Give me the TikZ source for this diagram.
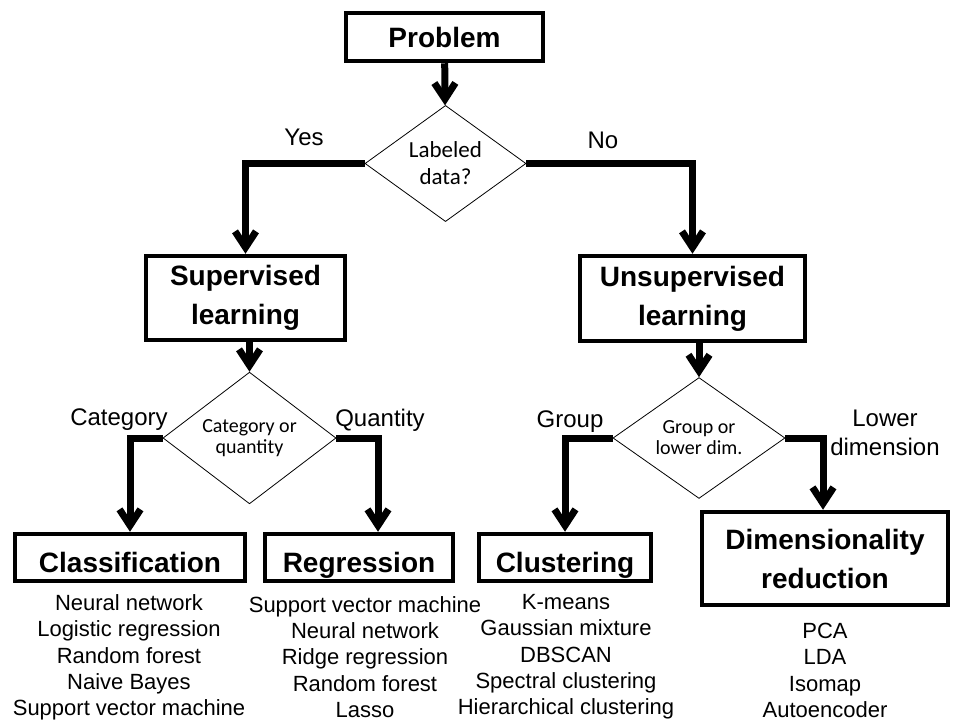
\documentclass[tikz,border=0pt]{standalone}
\usepackage{fontspec}
\setmainfont{Liberation Sans}
\newfontfamily\carlito{Carlito}
\usetikzlibrary{shapes.geometric,arrows.meta}
\begin{document}
\begin{tikzpicture}[x=1pt,y=-1pt,
  box/.style={draw, line width=4.5pt, inner sep=0pt, align=center,
    font=\fontsize{28}{39}\selectfont\bfseries},
  onebox/.style={box, text height=34pt, text depth=4pt},
  dec/.style={draw, diamond, line width=0.8pt, inner sep=0pt, align=center},
  lab/.style={font=\fontsize{24}{29}\selectfont, align=center},
  lst/.style={font=\fontsize{22}{26.3}\selectfont, align=center},
  arr/.style={line width=7pt, -{Straight Barb[length=16pt,width=21pt]}}
]
\useasboundingbox (0,0) rectangle (961,726);

% boxes
\node[box, minimum width=197pt, minimum height=48pt] (prob) at (444.5,37) {Problem};
\node[box, minimum width=199pt, minimum height=84pt] (sup) at (245.5,298) {\raisebox{-2pt}{Supervised}\\\raisebox{-2pt}{learning}};
\node[box, minimum width=225pt, minimum height=85pt] (unsup) at (692.5,298.5) {\raisebox{-1pt}{Unsupervised}\\\raisebox{-1pt}{learning}};
\node[onebox, minimum width=230pt, minimum height=47pt] (class) at (130,557.5) {Classification};
\node[onebox, minimum width=188pt, minimum height=47pt] (reg) at (359,557.5) {Regression};
\node[onebox, minimum width=172pt, minimum height=47pt] (clu) at (565,557.5) {Clustering};
\node[box, minimum width=246pt, minimum height=93pt] (dim) at (825,558.5) {Dimensionality\\reduction};

% decisions
\node[dec, minimum width=161pt, minimum height=107pt,
  font=\carlito\fontsize{23}{27}\selectfont] (d1) at (445.5,163.5) {Labeled\\data?};
\node[dec, minimum width=173pt, minimum height=110pt,
  font=\carlito\fontsize{20}{21}\selectfont] (d2) at (249.5,438) {Category or\\quantity};
\node[dec, minimum width=172pt, minimum height=110pt,
  font=\carlito\fontsize{20}{21}\selectfont] (d3) at (699,438) {Group or\\lower dim.};

% connectors
\draw[arr] (prob) -- (d1);
\draw[arr] (d1.west) -| (sup.north);
\draw[arr] (d1.east) -| (unsup.north);
\draw[arr] (sup.south -| d2.north) -- (d2.north);
\draw[arr] (unsup.south -| d3.north) -- (d3.north);
\draw[arr] (d2.west) -| (class.north);
\draw[arr] (d2.east) -| ([xshift=19pt]reg.north);
\draw[arr] (d3.west) -| (clu.north);
\draw[arr] (d3.east) -| ([xshift=-2pt]dim.north);

% branch labels
\node[lab] (yes) at (304,137) {Yes};
\node[lab] (no) at (603,140) {No};
\node[lab] (cat) at (119,420) {Category};
\node[lab] (qty) at (380,420) {Quantity};
\node[lab] (grp) at (570,422) {Group};
\node[lab] (low) at (885,432.5) {Lower\\dimension};

% method lists
\node[lst] (classlist) at (129,657.5) {Neural network\\Logistic regression\\Random forest\\Naive Bayes\\Support vector machine};
\node[lst] (reglist) at (365,657) {Support vector machine\\Neural network\\Ridge regression\\Random forest\\Lasso};
\node[lst] (clulist) at (566,657) {K-means\\Gaussian mixture\\DBSCAN\\Spectral clustering\\Hierarchical clustering};
\node[lst] (dimlist) at (825,670.5) {PCA\\LDA\\Isomap\\Autoencoder};
\end{tikzpicture}
\end{document}
